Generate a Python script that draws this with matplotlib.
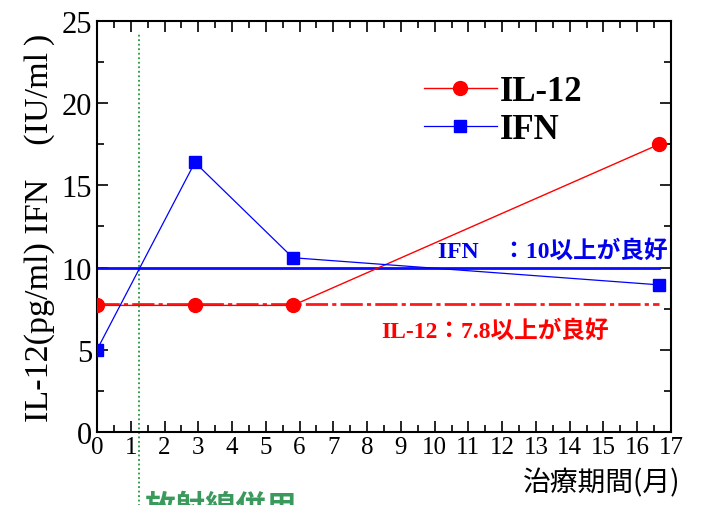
import matplotlib.pyplot as plt
from matplotlib.ticker import MultipleLocator

# 治療期間(月)
months = [0, 2.9, 5.8, 16.65]
il12 = [7.7, 7.7, 7.7, 17.5]
ifn = [5.0, 16.4, 10.6, 8.95]

# 基準値と放射線併用開始
ifn_limit = 10
il12_limit = 7.8
radiation_start = 1.25

xticks = list(range(0, 18))
yticks = [0, 5, 10, 15, 20, 25]

serif = ['Liberation Serif', 'Noto Sans CJK JP']
gothic = ['Noto Sans CJK JP', 'DejaVu Sans']

fig = plt.figure(figsize=(7.11, 5.06), dpi=100)
ax = fig.add_axes([0.1364, 0.1443, 0.8073, 0.8122])

# 基準線
ax.plot([0, 16.65], [ifn_limit, ifn_limit], color='#0a0aff', lw=2.0, zorder=2)
ax.plot([0, 16.65], [il12_limit, il12_limit], color='#ff1a1a', lw=2.0,
        dashes=[8, 1.5, 1.5, 1.5], zorder=2)

# データ
ax.plot(months, il12, color='#ff0000', lw=1.0, marker='o', markersize=10,
        label='IL-12', zorder=3)
ax.plot(months, ifn, color='#0000ff', lw=0.9, marker='s', markersize=9,
        label='IFN', zorder=3)

# 放射線併用
ax.axvline(radiation_start, ymin=-0.2, ymax=0.973, color='#1e9a3a', lw=1.3,
           ls=(0, (1, 1.5)), clip_on=False, zorder=1)
fig.text(0.203, 0.028, '放射線併用', color='#3a9a5c', fontsize=22,
         fontweight='bold', family=gothic, va='top', ha='left')

ax.text(16.9, 10.35, 'IFN\u3000：10以上が良好', color='#0000ee', fontsize=17,
        fontweight='bold', family=serif, ha='right', va='bottom')
ax.text(11.8, 6.2, 'IL-12：7.8以上が良好', color='#ff0000', fontsize=17,
        fontweight='bold', family=serif, ha='center', va='center')

ax.set_xlim(0, 17)
ax.set_ylim(0, 25)
ax.set_xticks(xticks)
ax.set_yticks(yticks)
ax.xaxis.set_minor_locator(MultipleLocator(0.5))
ax.yaxis.set_minor_locator(MultipleLocator(2.5))
ax.tick_params(which='both', direction='in', top=True, right=True, width=1.2)
ax.tick_params(which='major', length=8)
ax.tick_params(which='minor', length=5)
ax.tick_params(axis='x', pad=3)
for lbl in ax.get_xticklabels():
    lbl.set_family(serif)
    lbl.set_fontsize(18)
for lbl in ax.get_yticklabels():
    lbl.set_family(serif)
    lbl.set_fontsize(22)
for sp in ax.spines.values():
    sp.set_linewidth(1.5)

ax.set_ylabel('IL-12(pg/ml) IFN\u3000(IU/ml\u2009)', family=serif, fontsize=24.5,
              labelpad=5)
fig.text(0.957, 0.045, '治療期間(月)', family=gothic, fontsize=20,
         ha='right', va='center')

leg = ax.legend(loc='upper left', bbox_to_anchor=(0.515, 0.945), frameon=False,
                handlelength=2.1, handletextpad=0.1, labelspacing=0.15,
                prop={'family': serif, 'size': 25, 'weight': 'bold'})

fig.savefig('out.png', dpi=100)
